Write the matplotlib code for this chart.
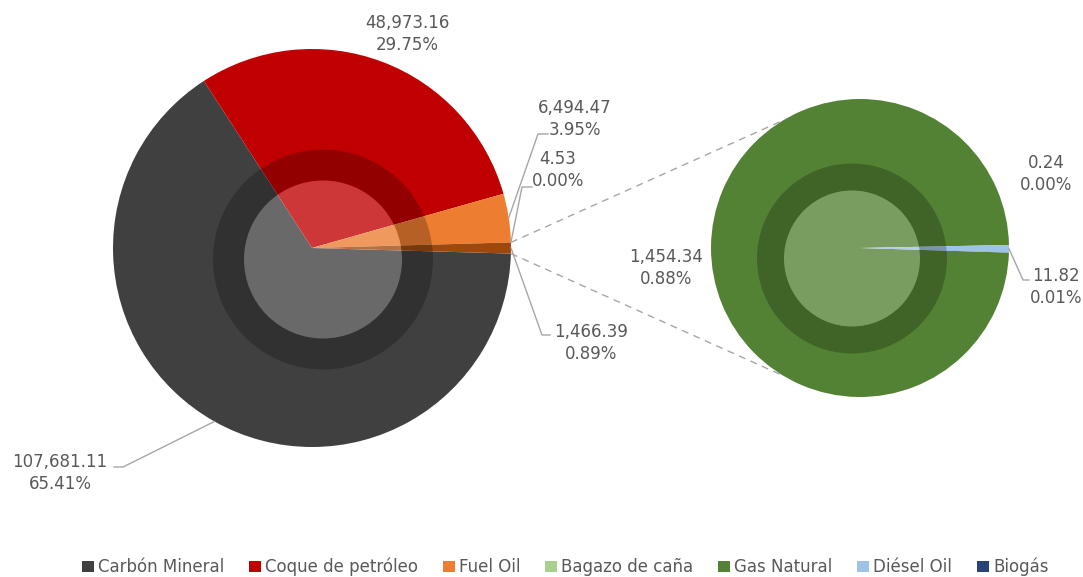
import numpy as np
import matplotlib
matplotlib.use("Agg")
import matplotlib.pyplot as plt
from matplotlib.patches import Circle, Wedge, Patch

W, H = 1083, 577

# main pie: the last slice ("Otros") is broken down in the secondary pie
main_names = ["Carbón Mineral", "Coque de petróleo", "Fuel Oil", "Bagazo de caña", "Otros"]
main_values = [107681.11, 48973.16, 6494.47, 4.53, 1466.39]
main_colors = ["#404040", "#C00000", "#ED7D31", "#A9D18E", "#9E480E"]

sub_names = ["Gas Natural", "Diésel Oil", "Biogás"]
sub_values = [1454.34, 11.82, 0.24]
sub_colors = ["#548235", "#9DC3E6", "#264478"]

legend_names = ["Carbón Mineral", "Coque de petróleo", "Fuel Oil", "Bagazo de caña",
                "Gas Natural", "Diésel Oil", "Biogás"]
legend_colors = ["#404040", "#C00000", "#ED7D31", "#A9D18E", "#548235", "#9DC3E6", "#264478"]

TXT = "#595959"
LINE = "#A6A6A6"


def fy(y):
    # image row -> data y (y axis points up)
    return H - y


fig = plt.figure(figsize=(W / 100, H / 100), dpi=100)
ax = fig.add_axes([0, 0, 1, 1])

total = sum(main_values)
other_deg = main_values[-1] / total * 360

main_c = (312, fy(248))
main_r = 199
sub_c = (860, fy(248))
sub_r = 149

w_main, _ = ax.pie(main_values, colors=main_colors, startangle=-other_deg / 2,
                   counterclock=False, center=main_c, radius=main_r,
                   wedgeprops=dict(linewidth=0))
w_sub, _ = ax.pie(sub_values, colors=sub_colors, startangle=-1.8,
                  counterclock=False, center=sub_c, radius=sub_r,
                  wedgeprops=dict(linewidth=0))

# shading rings (dark annulus + light disc)
for (cx, cy), r_out, r_in in [((323, fy(259.5)), 110, 79), ((852, fy(258.5)), 95, 68)]:
    ax.add_patch(Wedge((cx, cy), r_out, 0, 360, width=r_out - r_in,
                       facecolor="black", alpha=0.23, lw=0))
    ax.add_patch(Circle((cx, cy), r_in, facecolor="white", alpha=0.22, lw=0))


def edge_point(w, frac=0.5):
    a = np.deg2rad(w.theta1 + (w.theta2 - w.theta1) * frac)
    return w.center[0] + w.r * np.cos(a), w.center[1] + w.r * np.sin(a)


# dashed connectors between the "Otros" slice and the secondary pie
ow = w_main[-1]
for ang_main, ang_sub in [(ow.theta2, 121), (ow.theta1, -121)]:
    a = np.deg2rad(ang_main)
    x0 = main_c[0] + main_r * np.cos(a)
    y0 = main_c[1] + main_r * np.sin(a)
    b = np.deg2rad(ang_sub)
    x1 = sub_c[0] + sub_r * np.cos(b)
    y1 = sub_c[1] + sub_r * np.sin(b)
    ax.plot([x0, x1], [y0, y1], color=LINE, lw=1, ls=(0, (5, 4)))


def label(v, x, y):
    ax.text(x, fy(y), f"{v:,.2f}\n{v / total * 100:.2f}%", ha="center", va="center",
            fontsize=12, color=TXT, linespacing=1.3)


# (value, label centre, leader kink, leader end) in image pixels
main_lbl = [((60, 473), (123, 467), (114, 467)),
            ((407, 34), None, None),
            ((575, 119), (538, 134), (548, 134)),
            ((558, 170), (522, 187), (532, 187)),
            ((591, 343), (542, 335), (550, 335))]
for w, v, (pos, kink, end) in zip(w_main, main_values, main_lbl):
    label(v, *pos)
    if kink is not None:
        x0, y0 = edge_point(w)
        ax.plot([x0, kink[0], end[0]], [y0, fy(kink[1]), fy(end[1])], color=LINE, lw=1)

sub_lbl = [((666, 268), None, None),
           ((1056, 287), (1023, 280), (1029, 280)),
           ((1046, 174), None, None)]
for w, v, (pos, kink, end) in zip(w_sub, sub_values, sub_lbl):
    label(v, *pos)
    if kink is not None:
        x0, y0 = edge_point(w)
        ax.plot([x0, kink[0], end[0]], [y0, fy(kink[1]), fy(end[1])], color=LINE, lw=1)

ax.set_xlim(0, W)
ax.set_ylim(0, H)
ax.set_aspect("equal")
ax.axis("off")

handles = [Patch(facecolor=c, edgecolor="none") for c in legend_colors]
fig.legend(handles, legend_names, loc="center", bbox_to_anchor=(0.522, 1 - 567 / H),
           ncol=7, frameon=False, handlelength=0.7, handleheight=0.7,
           handletextpad=0.25, columnspacing=1.5, fontsize=12, labelcolor=TXT,
           borderaxespad=0, borderpad=0)

fig.savefig("out.png", dpi=100)
